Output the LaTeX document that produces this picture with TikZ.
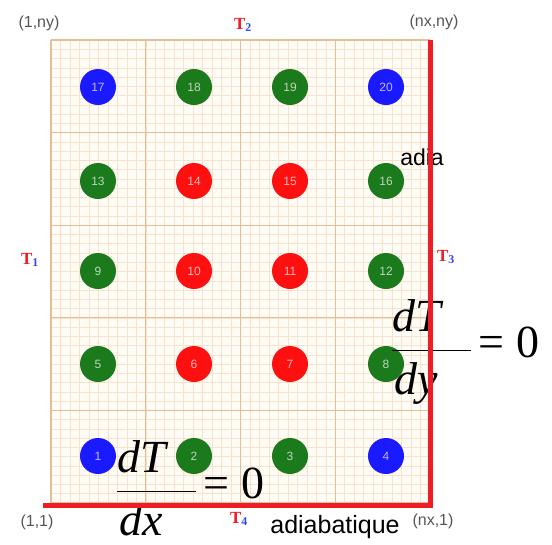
\documentclass[tikz,border=0pt]{standalone}
\usepackage{fontspec}
\usepackage{amsmath}
\setmainfont{Liberation Serif}
\setsansfont{Liberation Sans}
\usetikzlibrary{positioning}
\definecolor{wall}{HTML}{EE1C24}
\definecolor{hot}{HTML}{FF1010}
\definecolor{fixed}{HTML}{1A1AFF}
\definecolor{free}{HTML}{1B7A1B}
\definecolor{paper}{HTML}{FFFBF5}
\definecolor{minor}{HTML}{F6E2CD}
\definecolor{major}{HTML}{E3BE96}
\definecolor{corner}{HTML}{555555}
\definecolor{tsub}{HTML}{3344EE}
\tikzset{
  hmcell/.style  = {circle, minimum size=36pt, inner sep=0pt, text=white, text opacity=0.7,
                    font=\sffamily\fontsize{12}{13}\selectfont},
  hmblue/.style  = {hmcell, fill=fixed},
  hmgreen/.style = {hmcell, fill=free},
  hmred/.style   = {hmcell, fill=hot},
  hmminor/.style = {draw=minor, line width=0.5pt},
  hmmajor/.style = {draw=major, line width=1.2pt},
  hmwall/.style  = {draw=wall, line width=5pt},
  hmcorner/.style= {font=\sffamily\fontsize{16}{18}\selectfont, text=corner, inner sep=0pt},
  hmtemp/.style  = {font=\rmfamily\bfseries\fontsize{17}{18}\selectfont, text=wall, inner sep=0pt},
  hmnote/.style  = {font=\sffamily\fontsize{23}{26}\selectfont, text=black, inner sep=0pt},
  hmeq/.style    = {font=\rmfamily\fontsize{46}{52}\selectfont, inner sep=0pt, anchor=base west},
}
\newcommand{\hmT}[1]{T\textsubscript{\textcolor{tsub}{#1}}}
\newcommand{\hmfrac}[2]{$\displaystyle
  \frac{\rule[-0.35em]{0pt}{0.7em}\textit{#1}\hspace{0.65em}}
       {\rule{0pt}{0.88em}\textit{#2}\hspace{0.65em}}\mbox{\hspace{0.15em}=\hspace{0.25em}0}$}

\begin{document}
\begin{tikzpicture}[x=1pt, y=-1pt]
\useasboundingbox (0,0) rectangle (552,544);

% mesh paper
\fill[paper] (51,40) rectangle (430,503);
\foreach \i in {0,...,40} \draw[hmminor] ({51+9.475*\i},40) -- ({51+9.475*\i},503);
\foreach \j in {0,...,50} \draw[hmminor] (51,{40+9.26*\j}) -- (430,{40+9.26*\j});
\foreach \i in {0,...,4} \draw[hmmajor] ({51+94.75*\i},40) -- ({51+94.75*\i},503);
\foreach \j in {0,...,5} \draw[hmmajor] (51,{40+92.6*\j}) -- (430,{40+92.6*\j});

% nodes of the mesh
\node[hmblue]  (n17) at (98,87)  {17};
\node[hmgreen] (n18) at (194,87) {18};
\node[hmgreen] (n19) at (290,87) {19};
\node[hmblue]  (n20) at (386,87) {20};

\node[hmgreen] (n13) at (98,181)  {13};
\node[hmred]   (n14) at (194,181) {14};
\node[hmred]   (n15) at (290,181) {15};
\node[hmgreen] (n16) at (386,181) {16};

\node[hmgreen] (n9)  at (98,271)  {9};
\node[hmred]   (n10) at (194,271) {10};
\node[hmred]   (n11) at (290,271) {11};
\node[hmgreen] (n12) at (386,271) {12};

\node[hmgreen] (n5)  at (98,364)  {5};
\node[hmred]   (n6)  at (194,364) {6};
\node[hmred]   (n7)  at (290,364) {7};
\node[hmgreen] (n8)  at (386,364) {8};

\node[hmblue]  (n1)  at (98,456)  {1};
\node[hmgreen] (n2)  at (194,456) {2};
\node[hmgreen] (n3)  at (290,456) {3};
\node[hmblue]  (n4)  at (386,456) {4};

% boundary conditions
\node[hmeq] (eqx) at (116,498) {\hmfrac{dT}{dx}};
\node[hmeq] (eqy) at (391,357) {\hmfrac{dT}{dy}};

\node[hmtemp] (t1) at (30,260)  {\hmT{1}};
\node[hmtemp] (t2) at (243,25)  {\hmT{2}};
\node[hmtemp] (t3) at (446,257) {\hmT{3}};
\node[hmtemp] (t4) at (239,519) {\hmT{4}};

\node[hmnote] (adia) at (422,157) {adia};
\node[hmnote, font=\sffamily\fontsize{25}{28}\selectfont] (adiab) at (335,527) {adiabatique};

\node[hmcorner] (c1) at (39,23)  {(1,ny)};
\node[hmcorner] (c2) at (434,22) {(nx,ny)};
\node[hmcorner] (c3) at (37,522) {(1,1)};
\node[hmcorner] (c4) at (433,521) {(nx,1)};

% adiabatic walls
\draw[hmwall] (43,505) -- (430,505) -- (430,40);
\end{tikzpicture}
\end{document}
